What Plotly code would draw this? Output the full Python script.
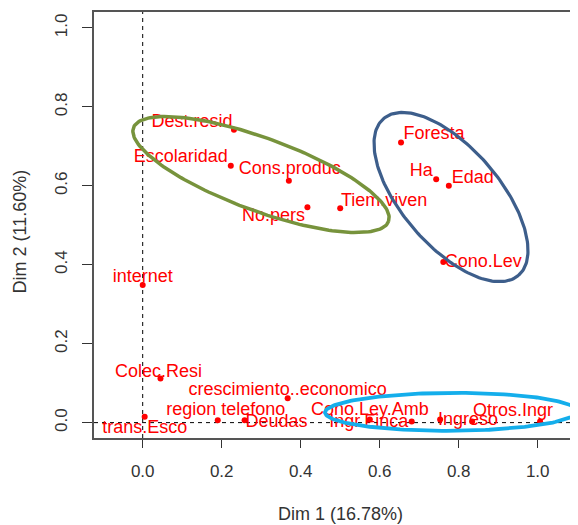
import numpy as np
import plotly.graph_objects as go

# ---- data ----
var_names = ["Dest.resid", "Escolaridad", "Cons.produc", "No.pers", "Tiem.viven",
             "Foresta", "Ha", "Edad", "Cono.Lev", "internet", "Colec.Resi",
             "crescimiento..economico", "region telefono", "trans.Esco", "Deudas",
             "Cono.Ley.Amb", "Ingr.Finca", "", "Ingreso", "Otros.Ingr"]
dim1 = [0.231, 0.223, 0.370, 0.417, 0.500,
        0.654, 0.743, 0.775, 0.761, 0.000, 0.045,
        0.367, 0.190, 0.005, 0.258,
        0.575, 0.681, 0.753, 0.834, 1.006]
dim2 = [0.742, 0.651, 0.613, 0.546, 0.543,
        0.710, 0.617, 0.600, 0.407, 0.349, 0.112,
        0.062, 0.006, 0.015, 0.006,
        0.008, 0.003, 0.008, 0.003, 0.003]
x_ticks = [0.0, 0.2, 0.4, 0.6, 0.8, 1.0]
y_ticks = [0.0, 0.2, 0.4, 0.6, 0.8, 1.0]
x_title = "Dim 1 (16.78%)"
y_title = "Dim 2 (11.60%)"

# ---- label offsets in pixels (dx right, dy up) ----
label_offsets = [(-42, 7), (-50, 8), (1, 11), (-34, -9), (44, 7),
                 (33, 8), (-15, 8), (24, 7), (40, 0), (0, 7), (-2, 6),
                 (0, 8), (8, 10), (0, -12), (32, -2),
                 (0, 9), (-43, -1), (0, 0), (-4, 1), (-27, 10)]
PX = 395.0  # pixels per data unit (equal aspect)

# ellipses: (cx, cy, a, b, angle_deg, color, width)
ellipses = [
    (0.2995, 0.6286, 0.344, 0.0922, -20.2, "#77933C", 3.5),
    (0.7805, 0.5716, 0.262, 0.1238, -49.3, "#3D5E8B", 3.2),
    (0.7805, 0.0273, 0.319, 0.0481, 0.3, "#14AEEB", 3.8),
]

XR = [(94 - 142.7) / PX, (578 - 142.7) / PX]
YR = [(423.3 - 438.7) / PX, (423.3 - 12.3) / PX]

fig = go.Figure()

# dashed reference lines
fig.add_trace(go.Scatter(x=[XR[0], XR[1]], y=[0, 0], mode="lines",
                         line=dict(color="black", width=1, dash="4px,4px"),
                         hoverinfo="skip", showlegend=False))
fig.add_trace(go.Scatter(x=[0, 0], y=[YR[0], YR[1]], mode="lines",
                         line=dict(color="black", width=1, dash="4px,4px"),
                         hoverinfo="skip", showlegend=False))

# points
fig.add_trace(go.Scatter(x=dim1, y=dim2, mode="markers",
                         marker=dict(color="#FF0000", size=6),
                         showlegend=False))

# labels
lx = [x + o[0] / PX for x, o in zip(dim1, label_offsets)]
ly = [y + o[1] / PX for y, o in zip(dim2, label_offsets)]
fig.add_trace(go.Scatter(x=lx, y=ly, mode="text", text=var_names,
                         textposition="middle center",
                         textfont=dict(family="Liberation Sans, Arial", size=18, color="#FF0000"),
                         hoverinfo="skip", showlegend=False))

# ellipses on top
t = np.linspace(0, 2 * np.pi, 200)
for cx, cy, a, b, ang, col, w in ellipses:
    th = np.deg2rad(ang)
    ex = cx + a * np.cos(t) * np.cos(th) - b * np.sin(t) * np.sin(th)
    ey = cy + a * np.cos(t) * np.sin(th) + b * np.sin(t) * np.cos(th)
    fig.add_trace(go.Scatter(x=ex, y=ey, mode="lines",
                             line=dict(color=col, width=w),
                             hoverinfo="skip", showlegend=False))

axis_font = dict(family="Liberation Sans, Arial", size=17, color="#333333")
fig.update_layout(
    width=570, height=517,
    margin=dict(l=86, r=0, t=4, b=87),
    plot_bgcolor="white", paper_bgcolor="white",
    xaxis=dict(range=XR, tickvals=x_ticks, ticktext=[f"{v:.1f}" for v in x_ticks],
               showgrid=False, zeroline=False, showline=True, mirror=True,
               linecolor="#555555", linewidth=1.5, ticks="outside", ticklen=8,
               tickcolor="#333333", tickfont=axis_font, ticklabelstandoff=9),
    yaxis=dict(range=YR, tickvals=y_ticks, ticktext=[f"{v:.1f}" for v in y_ticks],
               showgrid=False, zeroline=False, showline=True, mirror=False,
               linecolor="#555555", linewidth=1.5, ticks="outside", ticklen=10,
               tickcolor="#333333", tickfont=axis_font, tickangle=-90,
               ticklabelstandoff=8),
    annotations=[
        dict(text=x_title, xref="paper", yref="paper", x=0.51, y=-0.178,
             xanchor="center", yanchor="middle", showarrow=False,
             font=dict(family="Liberation Sans, Arial", size=18, color="#333333")),
        dict(text=y_title, xref="paper", yref="paper", x=-0.1529, y=0.4848,
             xanchor="center", yanchor="middle", showarrow=False, textangle=-90,
             font=dict(family="Liberation Sans, Arial", size=18, color="#333333")),
    ],
)

fig.write_html("out.html")
